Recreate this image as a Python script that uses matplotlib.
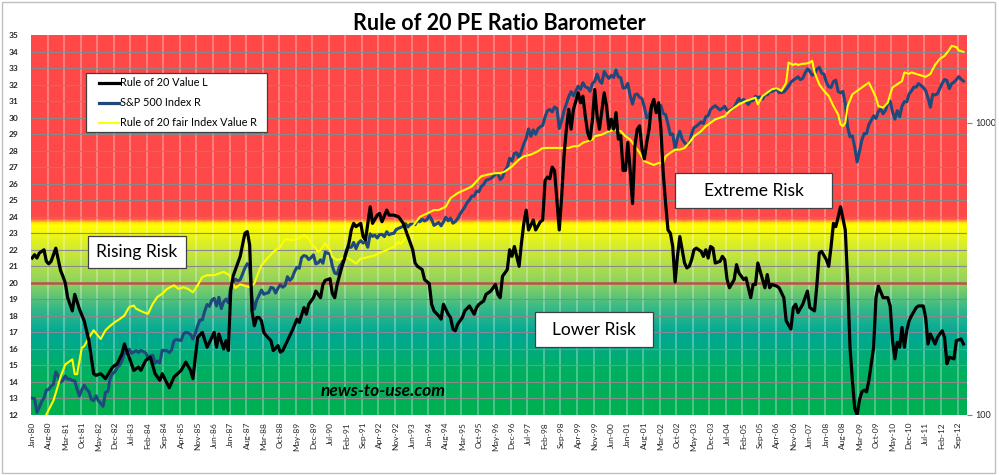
import numpy as np
import matplotlib
matplotlib.use('Agg')
import matplotlib.pyplot as plt
from matplotlib.colors import LinearSegmentedColormap
from matplotlib.patches import Rectangle
from matplotlib.lines import Line2D
from matplotlib.ticker import NullLocator, FixedLocator, FixedFormatter
import pandas as pd

plt.rcParams['font.family'] = ['Lato', 'DejaVu Sans']

# ---------------- data ----------------
months = pd.date_range('1980-01-01', '2012-12-01', freq='MS')
month_labels = [d.strftime('%b-%y') for d in months]
label_step = 7

# S&P 500 index (right, log axis), monthly Jan-80 .. Nov-12
sp500 = [
    114.2, 113.7, 102.1, 106.3, 111.2, 114.2, 121.7, 122.4, 125.5, 127.5, 140.5, 135.8,
    129.6, 131.3, 136.0, 132.8, 132.6, 131.2, 130.9, 122.8, 116.2, 121.9, 126.4, 122.6,
    120.4, 113.1, 112.0, 116.4, 111.9, 109.6, 107.1, 119.5, 120.4, 133.7, 138.5, 140.6,
    145.3, 148.1, 153.0, 164.4, 162.4, 168.1, 162.6, 164.4, 166.1, 163.6, 166.4, 164.9,
    163.4, 157.1, 159.2, 160.1, 150.6, 153.2, 150.7, 166.7, 166.1, 166.1, 163.6, 167.2,
    179.6, 181.2, 180.7, 179.8, 189.6, 191.9, 190.9, 188.6, 182.1, 189.8, 202.2, 211.3,
    211.8, 226.9, 238.9, 235.5, 247.4, 250.8, 236.1, 252.9, 231.3, 244.0, 249.2, 242.2,
    274.1, 284.2, 291.7, 288.4, 290.1, 304.0, 318.7, 329.8, 321.8, 251.8, 230.3, 247.1,
    257.1, 267.8, 258.9, 261.3, 262.2, 273.5, 272.0, 261.5, 271.9, 279.0, 273.7, 277.7,
    297.5, 288.9, 294.9, 309.6, 320.5, 318.0, 346.1, 351.5, 349.2, 340.4, 346.0, 353.4,
    329.1, 331.9, 339.9, 330.8, 361.2, 358.0, 356.2, 322.6, 306.1, 304.0, 322.2, 330.2,
    343.9, 367.1, 375.2, 375.3, 389.8, 371.2, 387.8, 395.4, 387.9, 392.5, 375.2, 417.1,
    408.8, 412.7, 403.7, 415.0, 415.4, 408.1, 424.2, 414.0, 417.8, 418.7, 431.4, 435.7,
    438.8, 443.4, 451.7, 440.2, 450.2, 450.5, 448.1, 463.6, 458.9, 467.8, 461.8, 466.5,
    481.6, 467.1, 445.8, 450.9, 456.5, 444.3, 458.3, 475.5, 462.7, 472.4, 453.7, 459.3,
    470.4, 487.4, 500.7, 514.7, 533.4, 544.8, 562.1, 561.9, 584.4, 581.5, 605.4, 615.9,
    636.0, 640.4, 645.5, 654.2, 669.1, 670.6, 640.0, 652.0, 687.3, 705.3, 757.0, 740.7,
    786.2, 790.8, 757.1, 801.3, 848.3, 885.1, 954.3, 899.5, 947.3, 914.6, 955.4, 970.4,
    980.3, 1049.3, 1101.8, 1111.8, 1090.8, 1133.8, 1120.7, 957.3, 1017.0, 1098.7, 1163.6, 1229.2,
    1279.6, 1238.3, 1286.4, 1335.2, 1301.8, 1372.7, 1328.7, 1320.4, 1282.7, 1362.9, 1388.9, 1469.3,
    1394.5, 1366.4, 1498.6, 1452.4, 1420.6, 1454.6, 1430.8, 1517.7, 1436.5, 1429.4, 1315.2, 1320.3,
    1366.0, 1239.9, 1160.3, 1249.5, 1255.8, 1224.4, 1211.2, 1133.6, 1040.9, 1059.8, 1139.5, 1148.1,
    1130.2, 1106.7, 1147.4, 1076.9, 1067.1, 989.8, 911.6, 916.1, 815.3, 885.8, 936.3, 879.8,
    855.7, 841.2, 848.2, 916.9, 963.6, 974.5, 990.3, 1008.0, 996.0, 1050.7, 1058.2, 1111.9,
    1131.1, 1144.9, 1126.2, 1107.3, 1120.7, 1140.8, 1101.7, 1104.2, 1114.6, 1130.2, 1173.8, 1211.9,
    1181.3, 1203.6, 1180.6, 1156.9, 1191.5, 1191.3, 1234.2, 1220.3, 1228.8, 1207.0, 1249.5, 1248.3,
    1280.1, 1280.7, 1294.9, 1310.6, 1270.1, 1270.2, 1276.7, 1303.8, 1335.9, 1377.9, 1400.6, 1418.3,
    1438.2, 1406.8, 1420.9, 1482.4, 1530.6, 1503.4, 1455.3, 1474.0, 1526.8, 1549.4, 1481.1, 1468.4,
    1378.6, 1330.6, 1322.7, 1385.6, 1400.4, 1280.0, 1267.4, 1282.8, 1166.4, 968.8, 896.2, 903.3,
    825.9, 735.1, 797.9, 872.8, 919.1, 919.3, 987.5, 1020.6, 1057.1, 1036.2, 1095.6, 1115.1,
    1073.9, 1104.5, 1169.4, 1186.7, 1089.4, 1030.7, 1101.6, 1049.3, 1141.2, 1183.3, 1180.6, 1257.6,
    1286.1, 1327.2, 1325.8, 1363.6, 1345.2, 1320.6, 1292.3, 1218.9, 1131.4, 1253.3, 1247.0, 1257.6,
    1312.4, 1365.7, 1408.5, 1397.9, 1310.3, 1362.2, 1379.3, 1406.6, 1440.7, 1412.2, 1390.0,
]

# Rule of 20 value (left axis); month = months after Jan-1980
r20_month = [
    0, 1, 2, 3, 5, 6, 7, 8, 10, 12, 13, 14, 15, 17, 18, 20, 22, 24, 26, 27, 29, 31, 34, 36, 38, 39,
    41, 43, 45, 46, 48, 50, 52, 54, 55, 58, 60, 63, 65, 67, 68, 70, 72, 74, 77, 78, 79, 81, 82, 83,
    84, 85, 86, 87, 88, 89, 90, 91, 92, 93, 94, 95, 96, 97, 98, 99, 101, 102, 104, 105, 106, 108,
    110, 112, 113, 115, 116, 117, 119, 120, 122, 123, 124, 126, 127, 128, 129, 131, 132, 134, 135,
    136, 137, 139, 140, 141, 143, 144, 146, 147, 148, 150, 151, 153, 155, 156, 157, 158, 159, 161,
    162, 163, 165, 166, 168, 169, 170, 172, 173, 174, 176, 177, 178, 179, 180, 182, 183, 185, 187,
    188, 189, 191, 192, 194, 195, 196, 197, 198, 199, 201, 202, 203, 204, 206, 207, 208, 209, 210,
    212, 213, 215, 216, 217, 218, 219, 220, 221, 223, 224, 225, 226, 227, 228, 229, 231, 232, 233,
    234, 235, 236, 237, 238, 239, 240, 242, 243, 244, 245, 246, 247, 248, 249, 250, 251, 252, 253,
    254, 255, 256, 257, 258, 259, 260, 261, 262, 263, 264, 265, 266, 267, 268, 269, 270, 271, 272,
    273, 274, 275, 276, 277, 278, 279, 280, 281, 283, 284, 285, 286, 287, 288, 289, 291, 292, 293,
    294, 295, 297, 298, 299, 301, 302, 303, 304, 305, 306, 307, 309, 310, 311, 312, 313, 315, 316,
    318, 319, 321, 322, 323, 324, 326, 327, 328, 329, 331, 332, 333, 334, 336, 337, 338, 339, 340,
    341, 342, 344, 345, 346, 347, 348, 349, 350, 351, 352, 353, 354, 355, 356, 357, 358, 360, 361,
    362, 363, 364, 365, 366, 367, 368, 369, 370, 371, 372, 374, 375, 376, 377, 378, 379, 380, 382,
    383, 385, 386, 387, 388, 390, 391, 393, 394,
]
r20_value = [
    21.5, 21.7, 21.5, 21.8, 22.0, 21.3, 21.15, 21.3, 22.1, 20.75, 20.4, 20.0, 19.1, 18.3, 19.3, 18.4, 17.7, 16.5, 14.5, 14.4, 14.5, 14.2, 14.9, 15.1, 15.7, 16.3,
    15.5, 14.7, 14.9, 14.7, 15.3, 15.5, 14.5, 14.1, 14.5, 13.65, 14.3, 14.7, 15.2, 14.7, 14.2, 16.7, 17.0, 16.1, 17.0, 16.1, 16.9, 16.0, 16.5, 15.9,
    19.5, 20.4, 20.8, 21.2, 21.6, 22.3, 23.0, 23.1, 22.3, 18.3, 17.4, 17.9, 17.9, 17.7, 17.0, 16.8, 16.5, 15.9, 16.2, 15.8, 15.9, 16.5,
    17.1, 17.8, 17.6, 18.5, 18.1, 18.7, 19.1, 19.5, 19.1, 19.9, 20.15, 20.25, 19.35, 19.1, 19.9, 20.95, 21.4, 22.4, 23.2,
    23.6, 23.4, 23.6, 22.8, 22.6, 24.6, 23.6, 24.1, 24.2, 23.7, 24.4, 24.1, 24.1, 24.0, 23.8, 23.6, 23.2, 22.8, 22.0,
    21.2, 21.0, 20.8, 20.2, 19.95, 18.7, 18.3, 18.0, 17.8, 18.7, 18.1, 17.9, 17.2, 17.1, 17.5, 17.9, 18.3, 18.6, 18.1,
    18.5, 18.7, 18.9, 19.3, 19.5, 19.7, 19.9, 19.3, 19.1, 20.4, 20.8, 22.0, 21.6, 22.2, 21.0, 22.4, 23.6, 24.4, 23.2,
    23.8, 23.2, 23.7, 23.8, 26.2, 26.4, 26.3, 27.0, 26.8, 23.2, 25.2, 27.65, 29.3, 30.5, 29.3, 30.5, 31.5, 30.9, 31.3,
    30.1, 29.1, 28.7, 29.8, 31.7, 30.1, 29.3, 31.5, 30.7, 29.3, 29.9, 29.3, 30.3, 28.7, 28.9, 26.8, 26.8, 28.5, 26.8,
    24.8, 28.3, 29.3, 29.5, 28.1, 27.5, 28.5, 29.3, 30.7, 31.1, 30.3, 30.9, 29.3, 26.6, 24.8, 23.2, 23.0, 22.2, 20.05,
    21.6, 22.8, 22.0, 21.2, 20.9, 21.0, 21.4, 22.0, 22.1, 21.9, 21.6, 22.0, 21.5, 22.2, 22.1, 21.2, 21.3, 21.6, 21.4,
    20.2, 19.7, 20.2, 21.1, 20.6, 20.2, 20.3, 19.7, 19.1, 19.9, 19.9, 21.2, 20.2, 19.7, 20.5, 19.7, 19.9, 19.8, 19.7,
    19.1, 17.7, 17.2, 18.5, 18.7, 18.2, 18.7, 19.1, 19.5, 18.5, 18.3, 19.9, 21.8, 21.9, 21.4, 21.0, 22.2, 23.6, 23.4,
    24.0, 24.6, 23.2, 20.15, 16.1, 14.1, 12.4, 12.0, 12.9, 13.4, 13.5, 13.4, 14.1, 15.1, 16.1, 19.1, 19.8, 19.1, 19.1,
    19.1, 18.6, 16.5, 15.4, 16.4, 16.1, 17.3, 16.1, 17.1, 17.7, 18.0, 18.5, 18.6, 18.6, 18.6, 17.9, 16.3, 16.9, 16.3,
    16.7, 17.1, 16.7, 15.1, 15.5, 15.4, 16.5, 16.6, 16.3,
]

# Rule of 20 fair index value (right, log axis); month = months after Jan-1980
fair_month = [
    5, 6, 9, 11, 12, 14, 16, 17, 18, 19, 21, 22, 24, 26, 29, 31, 33, 35, 37, 39, 41, 43, 44, 47, 49,
    51, 53, 55, 57, 60, 62, 64, 66, 68, 70, 72, 74, 77, 79, 81, 83, 84, 85, 86, 88, 90, 92, 94, 95,
    97, 99, 102, 105, 107, 110, 112, 115, 117, 118, 120, 121, 122, 124, 126, 127, 129, 131, 133, 135,
    137, 139, 142, 145, 148, 150, 153, 155, 156, 158, 161, 164, 167, 170, 172, 175, 177, 180, 183,
    186, 188, 190, 193, 196, 198, 200, 203, 206, 208, 211, 214, 216, 218, 221, 224, 227, 229, 231,
    233, 235, 237, 238, 241, 244, 247, 249, 251, 253, 255, 257, 259, 261, 263, 265, 267, 268, 270,
    272, 274, 276, 278, 280, 283, 285, 287, 289, 291, 293, 295, 297, 299, 302, 304, 306, 307, 309,
    311, 313, 315, 317, 319, 320, 322, 323, 324, 326, 327, 329, 330, 331, 333, 335, 337, 339, 341,
    342, 343, 344, 345, 347, 348, 350, 352, 354, 355, 357, 358, 360, 362, 363, 364, 367, 368, 369,
    371, 372, 374, 376, 378, 380, 382, 384, 386, 388, 389, 391, 392, 394,
]
fair_value = [
    97, 100.5, 112, 127, 135, 149, 153, 155, 138, 138, 170, 172, 184, 195, 182, 195, 202, 208, 213, 219, 234, 237, 231, 225, 222,
    240, 254, 260, 270, 278, 270, 274, 270, 263, 278, 297, 301, 301, 305, 309, 303, 297, 281, 272, 280, 277, 274, 282, 297,
    326, 340, 362, 377, 400, 397, 400, 413, 402, 387, 372, 362, 367, 387, 367, 347, 339, 343, 347, 339,
    330, 343, 347, 352, 362, 367, 377, 391, 385, 405, 442, 477, 490, 503, 503, 517, 553, 575, 590,
    606, 632, 657, 666, 673, 673, 682, 710, 750, 769, 779, 800, 821, 821, 821, 821, 821, 832, 832,
    855, 866, 877, 900, 912, 937, 949, 937, 900, 877, 832, 790, 740, 729, 718, 729, 729, 768, 790,
    810, 810, 821, 855, 900, 937, 975, 1001, 1028, 1042, 1055, 1098, 1128, 1158, 1189, 1204, 1220, 1158, 1236,
    1270, 1304, 1315, 1287, 1374, 1609, 1580, 1594, 1580, 1594, 1594, 1609, 1632, 1489, 1355, 1287, 1236, 1142, 1069,
    988, 975, 1001, 1142, 1253, 1270, 1304, 1340, 1374, 1322, 1220, 1142, 1128, 1174, 1253, 1322, 1374, 1390, 1489,
    1472, 1489, 1472, 1455, 1438, 1472, 1580, 1656, 1697, 1781, 1836, 1818, 1772, 1751,
]

left_ticks = list(range(12, 36))
right_ticks = [100, 1000]
series_labels = ['Rule of 20 Value L', 'S&P 500 Index R', 'Rule of 20 fair Index Value R']
zone_labels = ['Rising Risk', 'Extreme Risk', 'Lower Risk']
title = 'Rule of 20 PE Ratio Barometer'
watermark = 'news-to-use.com'

# ---------------- styles ----------------
C_BLACK = '#000000'
C_BLUE = '#1F497D'
C_YELLOW = '#FFFF00'

W, H = 999, 475
fig = plt.figure(figsize=(W / 100, H / 100), dpi=100)
fig.patch.set_facecolor('white')


def fx(x):
    return x / W


def fy(y):
    return 1 - y / H


rect = [fx(31), fy(415), (967 - 31) / W, (415 - 35) / H]
n = len(months)
xlim = (-0.5, n - 0.5)

# --- background axes (left scale) ---
ax_bg = fig.add_axes(rect)
ax_bg.set_xlim(*xlim)
ax_bg.set_ylim(12, 35)
stops = [(12.0, '#00B050'), (14.6, '#00AF60'), (16.9, '#00A896'), (18.4, '#34B889'),
         (20.0, '#8DD35F'), (21.8, '#C8E63A'), (23.45, '#FFFF00'), (23.62, '#FFF000'),
         (23.76, '#FF9A30'), (23.92, '#FF4848'), (35.0, '#FF4848')]
cmap = LinearSegmentedColormap.from_list('zones', [((v - 12) / 23, c) for v, c in stops])
grad = np.linspace(0, 1, 800)[:, None]
ax_bg.imshow(grad, cmap=cmap, origin='lower', aspect='auto',
             extent=[xlim[0], xlim[1], 12, 35], interpolation='bilinear', zorder=0)
for b in np.arange(label_step - 0.5, n - 0.5, label_step):
    ax_bg.axvline(b, color='white', alpha=0.35, lw=1.2, zorder=1)
for v in left_ticks[1:-1]:
    ax_bg.axhline(v, color='#8A8A8A', lw=0.8, zorder=1.5)
ax_bg.axhline(20, color='#C0504D', lw=1.8, zorder=2)

ax_bg.set_xticks(range(0, n, label_step))
ax_bg.set_xticklabels(month_labels[::label_step], rotation=90, fontsize=6, color='#262626')
ax_bg.tick_params(axis='x', length=0, pad=5)
ax_bg.set_yticks(left_ticks)
ax_bg.set_yticklabels([str(t) for t in left_ticks], fontsize=6, fontweight='bold', color='#262626')
ax_bg.tick_params(axis='y', length=0, pad=9)
for s in ax_bg.spines.values():
    s.set_visible(False)

# --- log axes for S&P / fair value ---
ax_log = fig.add_axes(rect, sharex=ax_bg)
ax_log.patch.set_visible(False)
ax_log.set_yscale('log')
ax_log.set_ylim(100, 2000)
ax_log.plot(range(len(sp500)), sp500, color=C_BLUE, lw=2.2, solid_joinstyle='round', zorder=3)
ax_log.plot(fair_month, fair_value, color=C_YELLOW, lw=1.5, solid_joinstyle='round', zorder=4)
ax_log.yaxis.tick_right()
ax_log.yaxis.set_major_locator(FixedLocator(right_ticks))
ax_log.yaxis.set_major_formatter(FixedFormatter([str(t) for t in right_ticks]))
ax_log.yaxis.set_minor_locator(NullLocator())
ax_log.tick_params(axis='y', which='major', length=3.6, width=0.8, color='#808080',
                   labelsize=6.5, pad=2.5, labelcolor='#262626')
ax_log.tick_params(axis='x', which='both', bottom=False, labelbottom=False)
for s in ax_log.spines.values():
    s.set_visible(False)

# --- top axes for Rule of 20 (left scale) ---
ax_r = fig.add_axes(rect, sharex=ax_bg)
ax_r.patch.set_visible(False)
ax_r.set_ylim(12, 35)
ax_r.plot(r20_month, r20_value, color=C_BLACK, lw=2.3, solid_joinstyle='round', zorder=5)
ax_r.set_yticks([])
ax_r.tick_params(axis='x', which='both', bottom=False, labelbottom=False)
for s in ax_r.spines.values():
    s.set_visible(False)

# ---------------- decorations ----------------
fig.text(fx(499), fy(23), title, ha='center', va='center', fontsize=15.5, fontweight='bold')

# legend (manual)
fig.patches.append(Rectangle((fx(86), fy(132)), (267 - 86) / W, (132 - 73) / H,
                             transform=fig.transFigure, facecolor='white',
                             edgecolor='#404040', lw=0.9, zorder=10))
for k, (lab, col, lw) in enumerate(zip(series_labels, [C_BLACK, C_BLUE, C_YELLOW], [2.3, 2.3, 1.5])):
    yy = 82.5 + 20 * k
    fig.lines.append(Line2D([fx(99), fx(119)], [fy(yy), fy(yy)], transform=fig.transFigure,
                            color=col, lw=lw, zorder=11))
    fig.text(fx(120.5), fy(yy), lab, ha='left', va='center', fontsize=7.8, zorder=12)

# zone boxes
boxes = [(88, 236, 186, 268), (675, 173, 832, 208), (535, 312, 653, 347)]
for lab, (x0, y0, x1, y1) in zip(zone_labels, boxes):
    fig.patches.append(Rectangle((fx(x0), fy(y1)), (x1 - x0) / W, (y1 - y0) / H,
                                 transform=fig.transFigure, facecolor='white',
                                 edgecolor='#404040', lw=0.9, zorder=10))
    fig.text(fx((x0 + x1) / 2), fy((y0 + y1) / 2 + 0.5), lab, ha='center', va='center',
             fontsize=12.5, zorder=12)

fig.text(fx(383), fy(391), watermark, ha='center', va='center', fontsize=12.5,
         fontweight='bold', fontstyle='italic', zorder=12)

# outer chart border
fig.patches.append(Rectangle((fx(1.5), fy(472.5)), (995 - 1.5) / W, (472.5 - 1.5) / H,
                             transform=fig.transFigure, fill=False, edgecolor='#BFBFBF',
                             lw=1.0, zorder=20))

fig.savefig('out.png', dpi=100)
